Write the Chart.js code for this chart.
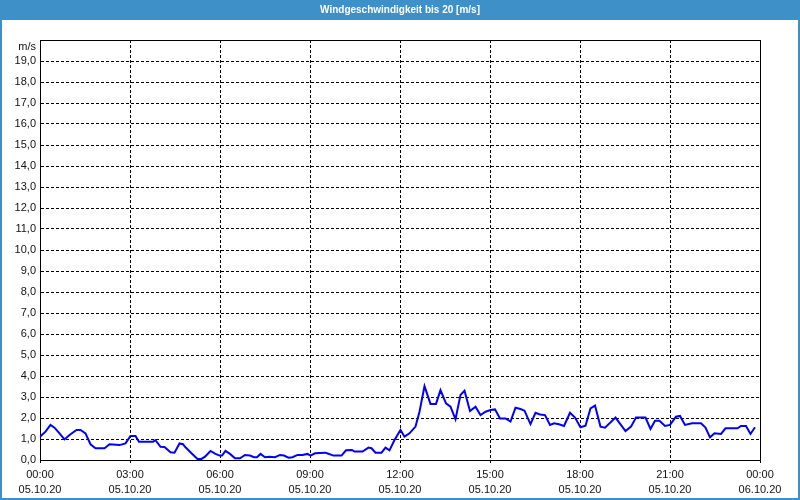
<!DOCTYPE html>
<html>
<head>
<meta charset="utf-8">
<script src="https://cdn.jsdelivr.net/npm/chart.js@4/dist/chart.umd.min.js"></script>
<style>
html,body{margin:0;padding:0;background:#fff;}
canvas{display:block;}
</style>
</head>
<body>
<canvas id="c" width="800" height="500"></canvas>
<script>
// minutes since 05.10.20 00:00
const times = [0,11,21,29,39,49,59,73,81,91,101,111,129,139,159,171,181,191,198,226,231,241,249,261,269,279,286,290,303,315,323,330,341,350,359,364,371,380,390,400,410,420,428,434,441,450,459,470,480,488,497,505,515,525,535,541,550,570,574,587,603,612,624,629,645,657,663,671,683,691,699,709,721,729,739,751,759,769,781,792,801,812,821,831,841,849,860,871,881,891,901,910,920,931,941,951,961,969,981,991,1000,1010,1020,1028,1038,1048,1060,1070,1081,1091,1101,1110,1121,1130,1151,1171,1182,1192,1211,1221,1230,1239,1250,1260,1272,1280,1290,1304,1322,1331,1340,1349,1362,1371,1395,1402,1412,1421,1430];
const speeds = [1.11,1.35,1.67,1.54,1.27,0.98,1.19,1.43,1.43,1.27,0.75,0.56,0.56,0.75,0.71,0.79,1.14,1.14,0.87,0.87,0.94,0.63,0.62,0.37,0.35,0.79,0.75,0.63,0.32,0.05,0.05,0.16,0.43,0.30,0.21,0.21,0.43,0.29,0.08,0.08,0.24,0.21,0.13,0.13,0.29,0.13,0.16,0.13,0.24,0.21,0.11,0.13,0.24,0.24,0.29,0.21,0.32,0.35,0.32,0.21,0.21,0.46,0.48,0.40,0.40,0.59,0.56,0.35,0.35,0.59,0.46,0.95,1.43,1.11,1.27,1.59,2.30,3.52,2.67,2.67,3.33,2.70,2.54,1.94,3.10,3.30,2.33,2.54,2.14,2.30,2.38,2.41,1.98,1.98,1.83,2.49,2.43,2.35,1.71,2.25,2.17,2.14,1.67,1.75,1.70,1.62,2.25,2.02,1.56,1.63,2.46,2.59,1.59,1.54,2.02,1.38,1.59,2.02,2.02,1.48,1.87,1.87,1.62,1.67,2.06,2.10,1.67,1.75,1.75,1.54,1.08,1.27,1.24,1.51,1.51,1.62,1.62,1.24,1.56];
const xTimeLabels = ['00:00','03:00','06:00','09:00','12:00','15:00','18:00','21:00','00:00'];
const xDateLabels = ['05.10.20','05.10.20','05.10.20','05.10.20','05.10.20','05.10.20','05.10.20','05.10.20','06.10.20'];
const titleText = 'Windgeschwindigkeit bis 20 [m/s]';
const unitLabel = 'm/s';

const FONT = 'Liberation Sans, Arial, sans-serif';
const BLUE = '#3d90c8';

const framePlugin = {
  id: 'frame',
  beforeDraw(chart) {
    const ctx = chart.ctx;
    ctx.save();
    ctx.fillStyle = '#ffffff';
    ctx.fillRect(0, 0, chart.width, chart.height);
    ctx.fillStyle = BLUE;
    ctx.fillRect(0, 0, chart.width, 20);
    ctx.fillRect(0, 0, 2, chart.height);
    ctx.fillRect(chart.width - 2, 0, 2, chart.height);
    ctx.fillRect(0, chart.height - 2, chart.width, 2);
    ctx.restore();
  },
  afterDraw(chart) {
    const ctx = chart.ctx;
    const a = chart.chartArea;
    ctx.save();
    ctx.strokeStyle = '#000';
    ctx.lineWidth = 1;
    ctx.beginPath();
    const l = Math.round(a.left) + 0.5, r = Math.round(a.right) + 0.5;
    const t = Math.round(a.top) + 0.5, b = Math.round(a.bottom) + 0.5;
    ctx.moveTo(l, t); ctx.lineTo(r, t); ctx.lineTo(r, b);
    ctx.stroke();
    ctx.fillStyle = '#111';
    ctx.font = '11px ' + FONT;
    ctx.textAlign = 'right';
    ctx.textBaseline = 'middle';
    ctx.fillText(unitLabel, a.left - 4, a.top + 7);
    ctx.restore();
  }
};

new Chart(document.getElementById('c'), {
  type: 'line',
  data: {
    datasets: [{
      data: times.map((t, i) => ({x: t, y: speeds[i]})),
      borderColor: '#0000ff',
      borderWidth: 2,
      pointRadius: 0,
      tension: 0,
      fill: false
    }]
  },
  options: {
    responsive: false,
    animation: false,
    devicePixelRatio: 1,
    layout: {padding: 0},
    plugins: {
      legend: {display: false},
      tooltip: {enabled: false},
      title: {
        display: true,
        text: titleText,
        color: '#ffffff',
        font: {family: FONT, size: 10, weight: 'bold', lineHeight: 1.2},
        padding: {top: 4, bottom: 24}
      }
    },
    scales: {
      x: {
        type: 'linear',
        min: 0, max: 1440,
        afterFit(s) { s.height = 40; },
        ticks: {
          stepSize: 60,
          autoSkip: false,
          maxRotation: 0,
          padding: 4,
          color: '#111',
          font: {family: FONT, size: 11, lineHeight: '15px'},
          callback(v) {
            if (v % 180 !== 0) return null;
            const i = v / 180;
            return [xTimeLabels[i], xDateLabels[i]];
          }
        },
        grid: {
          color: (c) => (c.tick && c.tick.value % 180 === 0) ? '#000' : 'rgba(0,0,0,0)',
          tickColor: '#000',
          tickLength: 3,
          lineWidth: 1
        },
        border: {display: true, color: '#000', width: 1, dash: [3, 2]}
      },
      y: {
        min: 0, max: 20,
        afterFit(s) { s.width = 40; },
        ticks: {
          stepSize: 1,
          padding: 4,
          color: '#111',
          font: {family: FONT, size: 11},
          callback(v) {
            if (v >= 20) return null;
            return v.toFixed(1).replace('.', ',');
          }
        },
        grid: {color: '#000', drawTicks: false, lineWidth: 1},
        border: {display: true, color: '#000', width: 1, dash: [3, 2]}
      },
      yRight: {
        position: 'right',
        min: 0, max: 20,
        afterFit(s) { s.width = 40; },
        ticks: {display: false},
        grid: {display: false, drawTicks: false},
        border: {display: false}
      }
    }
  },
  plugins: [framePlugin]
});
</script>
</body>
</html>
